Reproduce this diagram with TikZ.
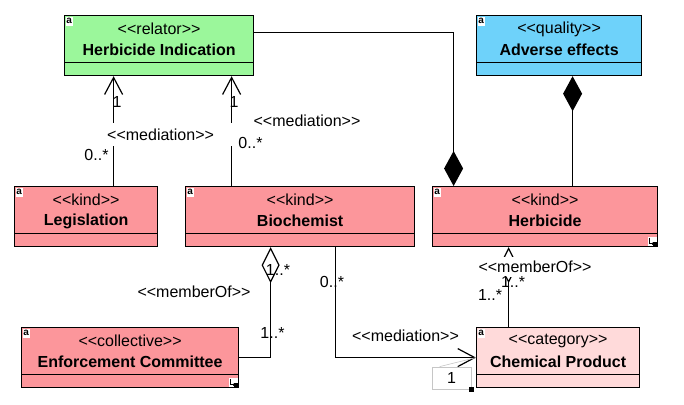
\documentclass[tikz,border=0pt]{standalone}
\usepackage{fontspec}
\setmainfont{Liberation Sans}
\usetikzlibrary{arrows.meta,positioning}
\definecolor{relatorgreen}{RGB}{155,247,155}
\definecolor{qualityblue}{RGB}{110,210,250}
\definecolor{kindpink}{RGB}{252,150,155}
\definecolor{categorypink}{RGB}{255,218,218}
\newcommand\st[1]{<\kern0pt<#1>\kern0pt>}
\newcommand\umlclass[7]{%
  \node[classbox,fill=#5,minimum width=#4pt,anchor=north west] (#1) at (#2,#3) {};
  \node[stereo] (#1-st) at ([yshift=-14pt]#1.north) {\st{#6}};
  \node[cname] (#1-nm) at ([yshift=-35pt]#1.north) {#7};
  \draw[line width=1.2pt] ([yshift=14pt]#1.south west) -- ([yshift=14pt]#1.south east);
  \node[aicon] (#1-a) at ([shift={(1.5pt,-1.5pt)}]#1.north west) {a};
}
\newcommand\subicon[1]{%
  \fill[white] ([shift={(-10pt,1pt)}]#1.south east) rectangle ([shift={(-1pt,10pt)}]#1.south east);
  \draw[line width=0.6pt,-{Latex[length=2pt,width=2.5pt]}] ([shift={(-9pt,9pt)}]#1.south east) |- ([shift={(-4pt,3.5pt)}]#1.south east);
  \fill ([shift={(-5pt,1pt)}]#1.south east) rectangle ([shift={(-1pt,5pt)}]#1.south east);
}
\tikzset{
  classbox/.style={rectangle,draw=black,line width=1.2pt,minimum height=60pt,inner sep=0pt},
  stereo/.style={font=\fontsize{16}{19}\selectfont,inner sep=1pt},
  cname/.style={font=\fontsize{16}{19}\selectfont\bfseries,inner sep=1pt},
  lbl/.style={font=\fontsize{16}{19}\selectfont,inner sep=1pt},
  aicon/.style={fill=white,anchor=north west,inner sep=0.4pt,minimum width=7pt,minimum height=9pt,font=\fontsize{10}{10}\selectfont\bfseries},
  assoc/.style={line width=1.2pt},
  med/.style={assoc,-{Straight Barb[length=17pt,width=18pt]}},
  comp/.style={assoc,-{Diamond[length=35pt,width=19pt]}},
  memb/.style={assoc,-{Diamond[open,length=36pt,width=18pt]}}
}
\begin{document}
\begin{tikzpicture}[x=1pt,y=-1pt]
\useasboundingbox (0,0) rectangle (684,404);

% classes
\umlclass{hi}{64}{15}{189}{relatorgreen}{relator}{Herbicide Indication}
\umlclass{ae}{476}{15}{165}{qualityblue}{quality}{Adverse effects}
\umlclass{leg}{14}{186}{143}{kindpink}{kind}{Legislation}
\umlclass{bio}{185}{186}{229}{kindpink}{kind}{Biochemist}
\umlclass{herb}{432}{186}{225}{kindpink}{kind}{Herbicide}
\umlclass{ec}{21}{327}{217}{kindpink}{collective}{Enforcement Committee}
\umlclass{cp}{476}{327}{163}{categorypink}{category}{Chemical Product}
\subicon{herb}
\subicon{ec}

% relations
\draw[med] ([xshift=27.5pt]leg.north) -- ([xshift=-45.5pt]hi.south);
\draw[med] ([xshift=-68.5pt]bio.north) -- ([xshift=72.5pt]hi.south);
\draw[comp] ([yshift=13pt]hi.east) -| ([xshift=-91.5pt]herb.north);
\draw[comp] ([xshift=27.5pt]herb.north) -- ([xshift=13.5pt]ae.south);
\draw[memb] (ec.east) -| ([xshift=-29.5pt]bio.south);
\draw[med] ([xshift=35.5pt]bio.south) |- (cp.west);
\draw[memb] ([xshift=-49.5pt]cp.north) -- ([xshift=-36.5pt]herb.south);

% labels
\node[lbl,fill=white,anchor=west,text width=124pt,align=left,minimum height=23pt] (legmed) at (106,134.5) {\st{mediation}};
\node[lbl] (legone) at (117,102) {1};
\node[lbl] (legmany) at (96.5,155) {0..*};
\node[lbl] (bioone) at (234,102) {1};
\node[lbl] (biomed) at (307,121) {\st{mediation}};
\node[lbl] (biomany) at (250.5,143) {0..*};
\node[lbl] (ecwhole) at (278,270) {1..*};
\node[lbl] (ecmemb) at (194,292) {\st{memberOf}};
\node[lbl] (ecpart) at (272.5,333) {1..*};
\node[lbl] (cpmany) at (332,282) {0..*};
\node[lbl] (cpmed) at (405.5,336) {\st{mediation}};
\node[lbl,fill=white,minimum height=20pt] (herbmemb) at (535,267) {\st{memberOf}};
\node[lbl] (herbpart) at (490,295) {1..*};
\node[lbl] (herbwhole) at (513,282) {1..*};

% multiplicity box
\node[lbl,draw=gray!45,line width=0.8pt,minimum width=39pt,minimum height=22pt] (mult) at (451.5,378) {1};
\draw[gray!45,line width=0.6pt] ([xshift=8pt]mult.north west) -- (cp.west);
\fill ([shift={(-2.5pt,-2.5pt)}]mult.south east) rectangle ([shift={(2.5pt,2.5pt)}]mult.south east);
\end{tikzpicture}
\end{document}
